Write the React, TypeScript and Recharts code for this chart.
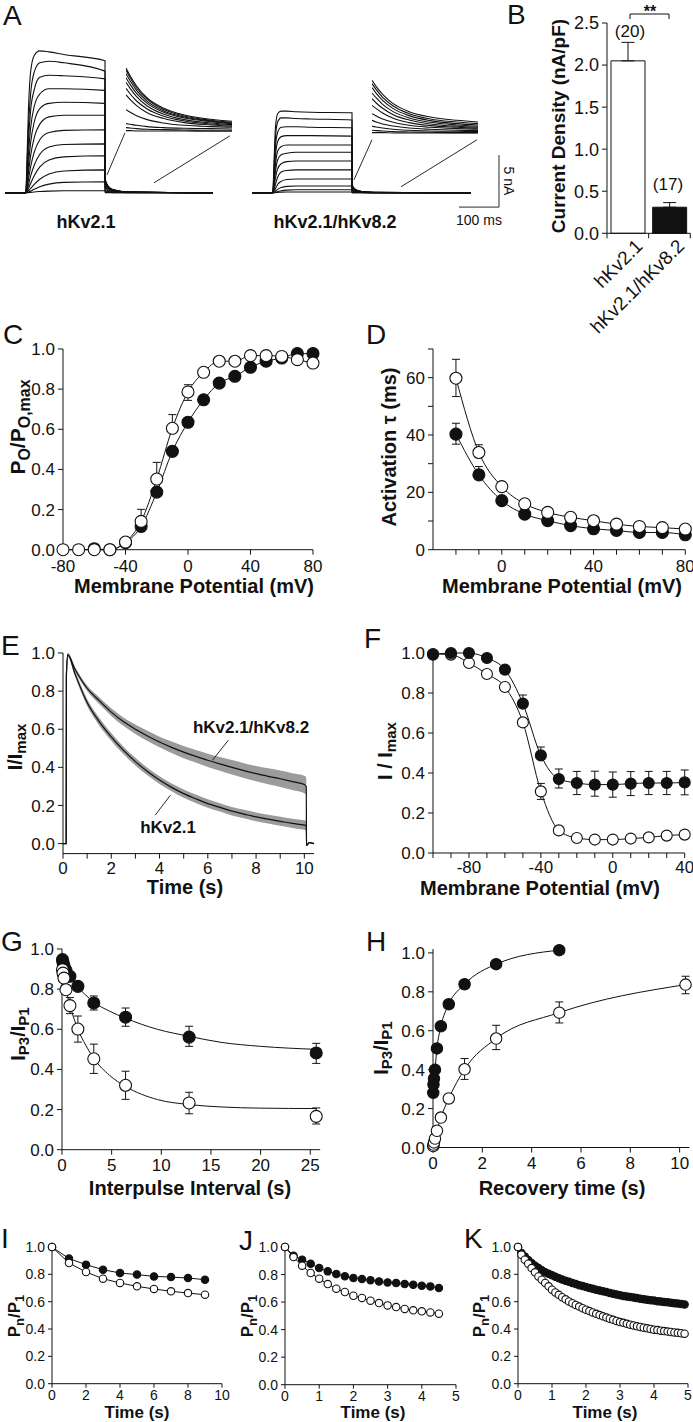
import React from 'react';
import {
  ComposedChart, LineChart, BarChart, Line, Scatter, Area, Bar, Cell,
  XAxis, YAxis, ErrorBar, ReferenceLine,
} from 'recharts';

const INK = '#111';
const GREY = '#9b9b9b';
const FONT = '"Liberation Sans", Arial, Helvetica, sans-serif';

// ---------- A: current traces (nA vs ms) ----------
const stepTimes = [52, 55, 58.5, 64, 73, 87, 110, 147, 250];
const tailTimes = [250.3, 255, 263, 277, 305];
const kv21SweepEnd = 520;
const kv82SweepEnd = 547;

const kv21Steps = [
  [0, 3.3, 7.9, 11.6, 13.2, 13.65, 13.55, 13.3, 12.7],
  [0, 2.5, 6.2, 9.5, 11.6, 12.5, 12.65, 12.5, 11.7],
  [0, 1.8, 4.8, 7.9, 9.9, 11.1, 11.3, 11.25, 10.95],
  [0, 1.3, 3.6, 6.2, 8.3, 9.5, 10.0, 10.0, 9.85],
  [0, 0.9, 2.6, 4.8, 6.8, 8.1, 8.6, 8.7, 8.6],
  [0, 0.65, 1.9, 3.55, 5.3, 6.6, 7.3, 7.45, 7.45],
  [0, 0.4, 1.25, 2.5, 3.9, 5.1, 5.8, 6.0, 6.06],
  [0, 0.25, 0.75, 1.6, 2.65, 3.7, 4.4, 4.65, 4.7],
  [0, 0.15, 0.4, 0.9, 1.65, 2.5, 3.15, 3.45, 3.56],
  [0, 0.08, 0.2, 0.4, 0.8, 1.3, 1.8, 2.1, 2.2],
  [0, 0.04, 0.08, 0.16, 0.33, 0.58, 0.83, 1.0, 1.06],
  [0, 0, 0.02, 0.04, 0.08, 0.12, 0.16, 0.19, 0.2],
];
const kv21Tails = [
  [1.4, 0.83, 0.45, 0.25, 0.08],
  [1.32, 0.79, 0.43, 0.23, 0.08],
  [1.24, 0.74, 0.41, 0.22, 0.07],
  [1.16, 0.7, 0.39, 0.21, 0.07],
  [1.08, 0.66, 0.36, 0.2, 0.07],
  [0.95, 0.58, 0.33, 0.18, 0.07],
  [0.79, 0.5, 0.28, 0.16, 0.06],
  [0.58, 0.37, 0.22, 0.12, 0.05],
  [0.37, 0.25, 0.15, 0.08, 0.03],
  [0.21, 0.14, 0.08, 0.05, 0.02],
  [0.08, 0.06, 0.04, 0.02, 0.02],
  [0.02, 0.02, 0.02, 0.01, 0.01],
];
const kv82Steps = [
  [0, 2.9, 6.2, 7.6, 7.85, 7.85, 7.8, 7.75, 7.7],
  [0, 2.3, 5.2, 6.8, 7.2, 7.2, 7.15, 7.1, 7.0],
  [0, 1.8, 4.3, 5.8, 6.3, 6.35, 6.35, 6.3, 6.25],
  [0, 1.4, 3.5, 4.9, 5.4, 5.5, 5.5, 5.5, 5.45],
  [0, 1.0, 2.65, 4.0, 4.45, 4.6, 4.6, 4.6, 4.6],
  [0, 0.75, 2.0, 3.15, 3.65, 3.8, 3.9, 3.9, 3.9],
  [0, 0.5, 1.4, 2.3, 2.8, 3.0, 3.05, 3.05, 3.05],
  [0, 0.3, 0.8, 1.5, 2.0, 2.15, 2.2, 2.2, 2.2],
  [0, 0.17, 0.4, 0.8, 1.1, 1.28, 1.32, 1.32, 1.32],
  [0, 0.07, 0.17, 0.33, 0.5, 0.62, 0.66, 0.66, 0.66],
  [0, 0.02, 0.07, 0.12, 0.2, 0.26, 0.29, 0.29, 0.29],
  [0, 0.01, 0.02, 0.03, 0.06, 0.08, 0.08, 0.08, 0.08],
];
const kv82Tails = [
  [0.8, 0.45, 0.25, 0.12, 0.04],
  [0.75, 0.42, 0.23, 0.11, 0.04],
  [0.69, 0.39, 0.21, 0.1, 0.04],
  [0.61, 0.35, 0.19, 0.09, 0.03],
  [0.52, 0.3, 0.16, 0.08, 0.03],
  [0.42, 0.25, 0.14, 0.07, 0.03],
  [0.3, 0.18, 0.1, 0.05, 0.02],
  [0.2, 0.12, 0.07, 0.04, 0.02],
  [0.11, 0.07, 0.04, 0.03, 0.02],
  [0.05, 0.04, 0.03, 0.02, 0.01],
  [0.02, 0.02, 0.01, 0.01, 0.01],
  [0.01, 0.01, 0.01, 0, 0],
];

// magnified tail currents (arbitrary units)
const insetTimes = [0, 4, 10, 20, 35, 55, 80, 100];
const kv21Inset = [
  [1.91, 1.67, 1.37, 1.01, 0.71, 0.5, 0.37, 0.31],
  [1.84, 1.61, 1.31, 0.97, 0.67, 0.47, 0.34, 0.28],
  [1.74, 1.52, 1.24, 0.91, 0.63, 0.44, 0.32, 0.26],
  [1.62, 1.41, 1.15, 0.85, 0.59, 0.41, 0.3, 0.24],
  [1.48, 1.29, 1.05, 0.77, 0.53, 0.36, 0.26, 0.21],
  [1.3, 1.13, 0.92, 0.68, 0.47, 0.32, 0.23, 0.19],
  [1.1, 0.96, 0.78, 0.57, 0.4, 0.27, 0.2, 0.16],
  [0.66, 0.58, 0.48, 0.36, 0.26, 0.19, 0.15, 0.13],
  [0.24, 0.22, 0.19, 0.15, 0.12, 0.1, 0.09, 0.08],
  [0.12, 0.11, 0.09, 0.07, 0.06, 0.05, 0.04, 0.04],
  [0.03, 0.03, 0.02, 0.02, 0.02, 0.02, 0.01, 0.01],
];
const kv82Inset = [
  [1.6, 1.41, 1.18, 0.9, 0.66, 0.5, 0.4, 0.35],
  [1.5, 1.32, 1.09, 0.83, 0.6, 0.44, 0.35, 0.3],
  [1.38, 1.21, 1.0, 0.75, 0.54, 0.39, 0.3, 0.26],
  [1.22, 1.07, 0.88, 0.66, 0.47, 0.34, 0.26, 0.22],
  [1.05, 0.92, 0.76, 0.57, 0.41, 0.29, 0.22, 0.19],
  [0.85, 0.75, 0.62, 0.46, 0.33, 0.24, 0.19, 0.16],
  [0.6, 0.53, 0.44, 0.34, 0.25, 0.19, 0.15, 0.13],
  [0.4, 0.35, 0.29, 0.23, 0.17, 0.13, 0.1, 0.09],
  [0.22, 0.2, 0.17, 0.13, 0.1, 0.08, 0.07, 0.06],
  [0.1, 0.09, 0.08, 0.06, 0.05, 0.04, 0.03, 0.03],
  [0.03, 0.03, 0.03, 0.02, 0.02, 0.02, 0.02, 0.02],
];

// ---------- B: current density ----------
const bGroups = ['hKv2.1', 'hKv2.1/hKv8.2'];
const bMeans = [2.05, 0.31];
const bErrs = [0.22, 0.055];
const bCounts = [20, 17];
const bFills = ['#fff', INK];

// ---------- C: activation ----------
const cOpenV = [-80, -70, -60, -50, -40, -30, -20, -10, 0, 10, 20, 30, 40, 50, 60, 70, 80];
const cOpen = [0, 0, 0, 0, 0.038, 0.141, 0.352, 0.605, 0.786, 0.884, 0.939, 0.939, 0.967, 0.967, 0.963, 0.947, 0.93];
const cOpenErr: ([number, number] | null)[] = [null, null, null, null, null, [0, 0.06], [0, 0.083], [0, 0.068], [0.042, 0.036]];
const cFilledV = [-60, -50, -40, -30, -20, -10, 0, 10, 20, 30, 40, 50, 60, 70, 80];
const cFilled = [0.005, 0, 0.035, 0.116, 0.287, 0.49, 0.635, 0.747, 0.83, 0.864, 0.909, 0.939, 0.955, 0.977, 0.977];
const cFilledErr: ([number, number] | null)[] = [null, null, null, [0.026, 0]];

// ---------- D: activation tau ----------
const dV = [-20, -10, 0, 10, 20, 30, 40, 50, 60, 70, 80];
const dOpen = [59.8, 33.9, 22.0, 16.0, 13.0, 11.3, 10.1, 8.9, 8.1, 7.7, 7.2];
const dOpenErr: ([number, number] | null)[] = [[6.4, 6.6], [0, 2.7]];
const dFilled = [40.3, 26.1, 17.1, 12.4, 10.1, 8.4, 7.3, 6.7, 6.0, 6.0, 5.2];
const dFilledErr: ([number, number] | null)[] = [[3.5, 3.8], [0, 2.9]];

// ---------- E: inactivation time course ----------
const eTime = [0, 0.13, 0.14, 0.2, 0.5, 1, 1.5, 2, 2.5, 3, 3.5, 4, 4.5, 5, 5.5, 6, 6.5, 7, 7.5, 8, 8.5, 9, 9.5, 10, 10.08, 10.09, 10.2, 10.4];
const eSlow = [0, 0, 0.88, 0.99, 0.915, 0.815, 0.75, 0.69, 0.64, 0.6, 0.565, 0.533, 0.505, 0.48, 0.458, 0.437, 0.418, 0.4, 0.383, 0.367, 0.353, 0.34, 0.325, 0.31, 0.3, -0.01, 0.005, 0];
const eSlowSem = [0, 0, 0.01, 0.01, 0.012, 0.015, 0.018, 0.02, 0.022, 0.025, 0.027, 0.028, 0.03, 0.032, 0.033, 0.035, 0.036, 0.038, 0.039, 0.04, 0.042, 0.043, 0.044, 0.046, 0.046, 0, 0, 0];
const eFast = [0, 0, 0.88, 0.99, 0.89, 0.74, 0.64, 0.56, 0.49, 0.43, 0.378, 0.333, 0.295, 0.262, 0.235, 0.21, 0.19, 0.17, 0.155, 0.14, 0.128, 0.117, 0.106, 0.097, 0.095, -0.01, 0.005, 0];
const eFastSem = [0, 0, 0.01, 0.01, 0.015, 0.018, 0.02, 0.02, 0.02, 0.02, 0.02, 0.02, 0.02, 0.022, 0.022, 0.022, 0.022, 0.022, 0.022, 0.023, 0.023, 0.024, 0.024, 0.025, 0.025, 0, 0, 0];

// ---------- F: steady-state inactivation ----------
const fV = [-100, -90, -80, -70, -60, -50, -40, -30, -20, -10, 0, 10, 20, 30, 40];
const fFilled = [0.992, 1.0, 1.0, 0.975, 0.917, 0.747, 0.488, 0.37, 0.35, 0.342, 0.342, 0.347, 0.35, 0.35, 0.353];
const fFilledErr: ([number, number] | null)[] = [null, null, null, null, null, [0, 0.043], [0, 0.042], [0.045, 0.05], [0.058, 0.058], [0.058, 0.067], [0.063, 0.063], [0.06, 0.06], [0.058, 0.058], [0.058, 0.058], [0.062, 0.062]];
const fOpen = [0.995, 0.992, 0.95, 0.895, 0.83, 0.653, 0.308, 0.113, 0.075, 0.067, 0.067, 0.072, 0.078, 0.087, 0.092];
const fOpenErr: ([number, number] | null)[] = [null, null, null, null, null, null, [0.04, 0.04]];

// ---------- G: closed-state inactivation ----------
const gX = [0.05, 0.1, 0.2, 0.4, 0.8, 1.6, 3.2, 6.4, 12.8, 25.6];
const gFilled = [0.947, 0.933, 0.917, 0.893, 0.864, 0.814, 0.731, 0.66, 0.561, 0.482];
const gFilledErr: ([number, number] | null)[] = [null, null, null, null, null, null, [0.035, 0.035], [0.045, 0.046], [0.046, 0.054], [0.052, 0.048]];
const gOpen = [0.897, 0.88, 0.855, 0.797, 0.718, 0.601, 0.453, 0.321, 0.233, 0.166];
const gOpenErr: ([number, number] | null)[] = [null, null, null, null, [0.04, 0.04], [0.065, 0.065], [0.073, 0.073], [0.07, 0.07], [0.054, 0.053], [0.038, 0.042]];
const gFitX = [0, 0.4, 0.8, 1.6, 2.4, 3.2, 4.8, 6.4, 9.6, 12.8, 16, 20, 25.6];
const gFilledFit = [0.945, 0.905, 0.865, 0.81, 0.77, 0.735, 0.69, 0.655, 0.6, 0.565, 0.535, 0.515, 0.5];
const gOpenFit = [0.9, 0.8, 0.72, 0.6, 0.52, 0.455, 0.37, 0.315, 0.25, 0.225, 0.213, 0.207, 0.205];

// ---------- H: recovery ----------
const hFilledX = [0.01, 0.02, 0.04, 0.08, 0.16, 0.32, 0.64, 1.28, 2.56, 5.12];
const hFilled = [0.281, 0.324, 0.354, 0.4, 0.509, 0.623, 0.736, 0.839, 0.942, 1.014];
const hOpenX = [0.01, 0.02, 0.04, 0.08, 0.16, 0.32, 0.64, 1.28, 2.56, 5.12, 10.24];
const hOpen = [0.007, 0.015, 0.026, 0.046, 0.086, 0.154, 0.252, 0.402, 0.56, 0.693, 0.837];
const hOpenErr: ([number, number] | null)[] = [null, null, null, null, null, null, null, [0.052, 0.055], [0.057, 0.068], [0.053, 0.055], [0.047, 0.043]];

// ---------- I, J, K: pulse trains ----------
const iT = [0, 1, 2, 3, 4, 5, 6, 7, 8, 9];
const iFilled = [1.0, 0.915, 0.871, 0.834, 0.81, 0.798, 0.785, 0.78, 0.773, 0.761];
const iOpen = [1.0, 0.883, 0.817, 0.768, 0.737, 0.712, 0.693, 0.676, 0.663, 0.651];

const jT = [0, 0.25, 0.5, 0.75, 1, 1.25, 1.5, 1.75, 2, 2.25, 2.5, 2.75, 3, 3.25, 3.5, 3.75, 4, 4.25, 4.5];
const jFilled = [1.0, 0.937, 0.908, 0.879, 0.847, 0.823, 0.804, 0.787, 0.775, 0.767, 0.758, 0.75, 0.743, 0.738, 0.731, 0.726, 0.719, 0.714, 0.702];
const jOpen = [1.0, 0.927, 0.864, 0.811, 0.77, 0.731, 0.697, 0.673, 0.646, 0.63, 0.61, 0.593, 0.576, 0.564, 0.55, 0.54, 0.533, 0.525, 0.516];

const kT = [0, 0.1, 0.2, 0.3, 0.4, 0.5, 0.6, 0.7, 0.8, 0.9, 1, 1.1, 1.2, 1.3, 1.4, 1.5, 1.6, 1.7, 1.8, 1.9,
  2, 2.1, 2.2, 2.3, 2.4, 2.5, 2.6, 2.7, 2.8, 2.9, 3, 3.1, 3.2, 3.3, 3.4, 3.5, 3.6, 3.7, 3.8, 3.9,
  4, 4.1, 4.2, 4.3, 4.4, 4.5, 4.6, 4.7, 4.8, 4.9];
const kFilled = [1.0, 0.956, 0.93, 0.905, 0.883, 0.863, 0.846, 0.83, 0.816, 0.804,
  0.793, 0.782, 0.772, 0.762, 0.753, 0.745, 0.737, 0.729, 0.721, 0.714,
  0.707, 0.7, 0.694, 0.688, 0.682, 0.676, 0.67, 0.664, 0.658, 0.652,
  0.647, 0.642, 0.638, 0.634, 0.63, 0.626, 0.622, 0.618, 0.614, 0.611,
  0.608, 0.604, 0.601, 0.598, 0.595, 0.592, 0.589, 0.586, 0.583, 0.58];
const kOpen = [1.0, 0.944, 0.907, 0.878, 0.846, 0.815, 0.785, 0.761, 0.737, 0.712,
  0.688, 0.668, 0.65, 0.633, 0.617, 0.602, 0.589, 0.576, 0.564, 0.552,
  0.541, 0.531, 0.521, 0.511, 0.502, 0.493, 0.484, 0.475, 0.467, 0.459,
  0.451, 0.445, 0.438, 0.432, 0.426, 0.42, 0.415, 0.41, 0.405, 0.4,
  0.395, 0.392, 0.388, 0.385, 0.381, 0.378, 0.375, 0.372, 0.369, 0.366];

// ---------- helpers ----------
type Err = [number, number];
type Pt = { x: number; y: number; e: Err };
type Box = { left: number; top: number; width: number; height: number };

const pts = (xs: number[], ys: number[], errs: (Err | null)[] = []): Pt[] =>
  xs.map((x, k) => ({ x, y: ys[k], e: errs[k] ?? [0, 0] }));

const traceRows = (steps: number[], tails: number[], end: number) => [
  { t: 0, i: 0 },
  ...stepTimes.map((t, k) => ({ t, i: steps[k] })),
  ...tailTimes.map((t, k) => ({ t, i: tails[k] })),
  { t: end, i: 0 },
];
const insetRows = (vals: number[]) => insetTimes.map((t, k) => ({ t, i: vals[k] }));

const circle = (r: number, fill: string) => (p: any) => (
  <circle cx={p.cx} cy={p.cy} r={r} fill={fill} stroke={INK} strokeWidth={1.1} />
);

const axisStyle = (size: number) => ({
  axisLine: { stroke: INK, strokeWidth: 1 },
  tickLine: { stroke: INK, strokeWidth: 1 },
  tick: { fill: INK, fontSize: size, fontFamily: FONT },
});

const fixed1 = (v: number) => v.toFixed(1);

type Series = { data: Pt[]; fit?: { x: number; y: number }[]; fill: string; r: number; err?: boolean; line?: 'monotone' | 'linear' };

type PanelProps = {
  box: Box; padL: number; padB: number; font: number; tick: number; xGap: number;
  xDomain: [number, number]; xTicks: number[]; xFmt?: (v: number) => string;
  yDomain: [number, number]; yTicks: number[]; yFmt?: (v: number) => string;
  series: Series[];
};

function XYPanel(p: PanelProps) {
  const padT = 10;
  const padR = 10;
  return (
    <div style={{ position: 'absolute', left: p.box.left - p.padL, top: p.box.top - padT }}>
      <ComposedChart
        width={p.box.width + p.padL + padR}
        height={p.box.height + padT + p.padB}
        margin={{ top: padT, right: padR, bottom: 0, left: 0 }}
      >
        <XAxis type="number" dataKey="x" domain={p.xDomain} ticks={p.xTicks} interval={0}
          tickFormatter={p.xFmt ?? ((v: number) => String(v))} height={p.padB}
          tickSize={p.tick} tickMargin={p.xGap} {...axisStyle(p.font)} />
        <YAxis type="number" dataKey="y" domain={p.yDomain} ticks={p.yTicks} interval={0}
          tickFormatter={p.yFmt ?? fixed1} width={p.padL}
          tickSize={p.tick} tickMargin={3} {...axisStyle(p.font)} />
        {p.series.map((s, k) => (
          <Line key={'fit' + k} data={s.fit ?? s.data} dataKey="y" type={s.line ?? 'monotone'}
            stroke={INK} strokeWidth={1} dot={false} activeDot={false} isAnimationActive={false} />
        ))}
        {p.series.map((s, k) => (
          <Scatter key={'pts' + k} data={s.data} dataKey="y" shape={circle(s.r, s.fill)} isAnimationActive={false}>
            {s.err && <ErrorBar dataKey="e" direction="y" width={4} stroke={INK} strokeWidth={1} />}
          </Scatter>
        ))}
      </ComposedChart>
    </div>
  );
}

type TraceProps = {
  box: Box; xMax: number; yDomain: [number, number];
  steps: number[][]; tails: number[][]; end: number;
  segments: { x: number; y: number }[][];
};

function Traces({ box, xMax, yDomain, steps, tails, end, segments }: TraceProps) {
  return (
    <div style={{ position: 'absolute', left: box.left, top: box.top }}>
      <LineChart width={box.width} height={box.height} margin={{ top: 0, right: 0, bottom: 0, left: 0 }}>
        <XAxis type="number" dataKey="t" domain={[0, xMax]} hide />
        <YAxis type="number" domain={yDomain} hide />
        {steps.map((s, k) => (
          <Line key={k} data={traceRows(s, tails[k], end)} dataKey="i" type="monotone"
            stroke={INK} strokeWidth={1.1} dot={false} activeDot={false} isAnimationActive={false} />
        ))}
        {segments.map((seg, k) => (
          <ReferenceLine key={'seg' + k} segment={seg} stroke={INK} strokeWidth={0.9} ifOverflow="visible" />
        ))}
      </LineChart>
    </div>
  );
}

function Inset({ box, curves }: { box: Box; curves: number[][] }) {
  return (
    <div style={{ position: 'absolute', left: box.left, top: box.top }}>
      <LineChart width={box.width} height={box.height} margin={{ top: 0, right: 0, bottom: 0, left: 0 }}>
        <XAxis type="number" dataKey="t" domain={[0, 100]} hide />
        <YAxis type="number" domain={[-0.05, 2]} hide />
        {curves.map((c, k) => (
          <Line key={k} data={insetRows(c)} dataKey="i" type="monotone" stroke={INK}
            strokeWidth={1.1} dot={false} activeDot={false} isAnimationActive={false} />
        ))}
      </LineChart>
    </div>
  );
}

const bBox: Box = { left: 606.7, top: 22.7, width: 83.3, height: 210.3 };

function GroupTick(props: any) {
  const { x, y, payload, index } = props;
  const half = bBox.width / 4;
  const tx = x + 16;
  const ty = y + 14;
  return (
    <g>
      <line x1={x + half} y1={y} x2={x + half} y2={y + 5} stroke={INK} />
      {index === 0 && <line x1={x - half} y1={y} x2={x - half} y2={y + 5} stroke={INK} />}
      <text x={tx} y={ty} textAnchor="end" transform={`rotate(-45 ${tx} ${ty})`}
        fontSize={19} fontFamily={FONT} fill={INK}>{payload.value}</text>
    </g>
  );
}

function DensityPanel() {
  const rows = bGroups.map((g, k) => ({ g, mean: bMeans[k], err: [0, bErrs[k]] }));
  const padL = 60;
  const padT = 10;
  return (
    <div style={{ position: 'absolute', left: bBox.left - padL, top: bBox.top - padT }}>
      <BarChart width={bBox.width + padL + 3} height={bBox.height + padT + 110} data={rows}
        margin={{ top: padT, right: 3, bottom: 0, left: 0 }}>
        <XAxis dataKey="g" type="category" height={110} interval={0} tickSize={0} tickMargin={0}
          tickLine={false} axisLine={{ stroke: INK }} tick={(p: any) => <GroupTick {...p} />} />
        <YAxis type="number" domain={[0, 2.5]} ticks={[0, 0.5, 1, 1.5, 2, 2.5]} interval={0} width={padL}
          tickFormatter={fixed1} tickSize={5} tickMargin={3} {...axisStyle(18)} />
        <Bar dataKey="mean" barSize={34} stroke={INK} strokeWidth={1} isAnimationActive={false}>
          {rows.map((r, k) => <Cell key={r.g} fill={bFills[k]} />)}
          <ErrorBar dataKey="err" width={6.5} stroke={INK} strokeWidth={1} />
        </Bar>
      </BarChart>
    </div>
  );
}

const eBox: Box = { left: 62.7, top: 652.7, width: 251, height: 200.6 };

function DecayPanel() {
  const rows = eTime.map((t, k) => ({
    x: t,
    slow: eSlow[k],
    fast: eFast[k],
    slowBand: [eSlow[k] - eSlowSem[k], eSlow[k] + eSlowSem[k]],
    fastBand: [eFast[k] - eFastSem[k], eFast[k] + eFastSem[k]],
  }));
  const padL = 62;
  const padT = 10;
  return (
    <div style={{ position: 'absolute', left: eBox.left - padL, top: eBox.top - padT }}>
      <ComposedChart width={eBox.width + padL + 10} height={eBox.height + padT + 30} data={rows}
        margin={{ top: padT, right: 10, bottom: 0, left: 0 }}>
        <XAxis type="number" dataKey="x" domain={[0, 10.4]} ticks={[0, 1, 2, 3, 4, 5, 6, 7, 8, 9, 10]} interval={0}
          tickFormatter={(v: number) => (v % 2 === 0 ? String(v) : '')} height={30}
          tickSize={5} tickMargin={3} {...axisStyle(17)} />
        <YAxis type="number" domain={[-0.0525, 1]} ticks={[0, 0.2, 0.4, 0.6, 0.8, 1]} interval={0} width={padL}
          tickFormatter={fixed1} tickSize={5} tickMargin={3} {...axisStyle(17)} />
        <Area dataKey="slowBand" type="monotone" stroke="none" fill={GREY} fillOpacity={1} isAnimationActive={false} activeDot={false} />
        <Area dataKey="fastBand" type="monotone" stroke="none" fill={GREY} fillOpacity={1} isAnimationActive={false} activeDot={false} />
        <Line dataKey="slow" type="monotone" stroke={INK} strokeWidth={1.2} dot={false} activeDot={false} isAnimationActive={false} />
        <Line dataKey="fast" type="monotone" stroke={INK} strokeWidth={1.2} dot={false} activeDot={false} isAnimationActive={false} />
        <ReferenceLine segment={[{ x: 6.85, y: 0.542 }, { x: 6.19, y: 0.437 }]} stroke={INK} strokeWidth={0.9} />
        <ReferenceLine segment={[{ x: 3.82, y: 0.149 }, { x: 4.45, y: 0.254 }]} stroke={INK} strokeWidth={0.9} />
      </ComposedChart>
    </div>
  );
}

function VTitle({ x, y, size, children }: { x: number; y: number; size: number; children: React.ReactNode }) {
  return (
    <text x={x} y={y} transform={`rotate(-90 ${x} ${y})`} textAnchor="middle" fontSize={size} fontWeight="bold">
      {children}
    </text>
  );
}

function HTitle({ x, y, size = 20, children }: { x: number; y: number; size?: number; children: React.ReactNode }) {
  return <text x={x} y={y} textAnchor="middle" fontSize={size} fontWeight="bold">{children}</text>;
}

const letters: [string, number, number][] = [
  ['A', 3, 25], ['B', 507, 24], ['C', 3, 344], ['D', 366, 344], ['E', 1, 655], ['F', 364, 648],
  ['G', 1, 951], ['H', 366, 951], ['I', 1, 1248], ['J', 239, 1250], ['K', 464, 1248],
];

function Overlay() {
  return (
    <svg width={693} height={1422} style={{ position: 'absolute', left: 0, top: 0, pointerEvents: 'none' }}
      fontFamily={FONT} fill={INK}>
      {letters.map(([l, x, y]) => (
        <text key={l} x={x} y={y} fontSize={28}>{l}</text>
      ))}
      {/* A */}
      <HTitle x={86} y={228} size={18}>hKv2.1</HTitle>
      <HTitle x={335} y={228} size={18}>hKv2.1/hKv8.2</HTitle>
      <text x={479} y={225} textAnchor="middle" fontSize={14}>100 ms</text>
      <text x={504} y={181} transform="rotate(90 504 181)" textAnchor="middle" fontSize={14}>5 nA</text>
      {/* B */}
      <VTitle x={565} y={126} size={19}>Current Density (nA/pF)</VTitle>
      <text x={630} y={37} textAnchor="middle" fontSize={17}>({bCounts[0]})</text>
      <text x={668} y={190} textAnchor="middle" fontSize={17}>({bCounts[1]})</text>
      <text x={650} y={17} textAnchor="middle" fontSize={16} fontWeight="bold">**</text>
      <path d="M630 19 V14 H669 V19" fill="none" stroke={INK} strokeWidth={1} />
      {/* C */}
      <VTitle x={25} y={427} size={21}>
        P<tspan fontSize={16} dy={5}>O</tspan><tspan dy={-5}>/P</tspan><tspan fontSize={16} dy={5}>O,max</tspan>
      </VTitle>
      <HTitle x={194} y={593}>Membrane Potential (mV)</HTitle>
      {/* D */}
      <VTitle x={396} y={447} size={20}>Activation τ (ms)</VTitle>
      <HTitle x={562} y={593}>Membrane Potential (mV)</HTitle>
      {/* E */}
      <VTitle x={22} y={747} size={20}>
        I/I<tspan fontSize={15} dy={4}>max</tspan>
      </VTitle>
      <HTitle x={185} y={894}>Time (s)</HTitle>
      <HTitle x={251} y={733} size={17}>hKv2.1/hKv8.2</HTitle>
      <HTitle x={168} y={833} size={17}>hKv2.1</HTitle>
      {/* F */}
      <VTitle x={392} y={751} size={20}>
        I / I<tspan fontSize={15} dy={4}>max</tspan>
      </VTitle>
      <HTitle x={540} y={895}>Membrane Potential (mV)</HTitle>
      {/* G */}
      <VTitle x={25} y={1034} size={20}>
        I<tspan fontSize={15} dy={4}>P3</tspan><tspan dy={-4}>/I</tspan><tspan fontSize={15} dy={4}>P1</tspan>
      </VTitle>
      <HTitle x={190} y={1195}>Interpulse Interval (s)</HTitle>
      {/* H */}
      <VTitle x={388} y={1048} size={20}>
        I<tspan fontSize={15} dy={4}>P3</tspan><tspan dy={-4}>/I</tspan><tspan fontSize={15} dy={4}>P1</tspan>
      </VTitle>
      <HTitle x={562} y={1195}>Recovery time (s)</HTitle>
      {/* I J K */}
      {[[20, 137], [253, 373], [485, 605]].map(([yx, tx]) => (
        <g key={yx}>
          <VTitle x={yx} y={1316} size={17}>
            P<tspan fontSize={13} dy={4}>n</tspan><tspan dy={-4}>/P</tspan><tspan fontSize={13} dy={4}>1</tspan>
          </VTitle>
          <HTitle x={tx} y={1418} size={17}>Time (s)</HTitle>
        </g>
      ))}
    </svg>
  );
}

const small = { padL: 50, padB: 22, font: 14, tick: 4, xGap: 2 };
const big = { padB: 30, font: 17, tick: 5 };

export default function App() {
  return (
    <div style={{ position: 'absolute', left: 0, top: 0, width: 693, height: 1422, background: '#fff', fontFamily: FONT, overflow: 'hidden' }}>
      {/* A */}
      <Traces box={{ left: 5, top: 42.2, width: 230, height: 161.2 }} xMax={575} yDomain={[-1, 14.5]}
        steps={kv21Steps} tails={kv21Tails} end={kv21SweepEnd}
        segments={[
          [{ x: 255, y: 1.73 }, { x: 300, y: 5.77 }],
          [{ x: 372.5, y: 0.96 }, { x: 562.5, y: 5.48 }],
        ]} />
      <Inset box={{ left: 126, top: 65.3, width: 106, height: 68.3 }} curves={kv21Inset} />
      <Traces box={{ left: 252, top: 42.2, width: 260, height: 166.4 }} xMax={650} yDomain={[-1.5, 14.5]}
        steps={kv82Steps} tails={kv82Tails} end={kv82SweepEnd}
        segments={[
          [{ x: 255, y: 1.25 }, { x: 300, y: 5.1 }],
          [{ x: 372.5, y: 0.58 }, { x: 562.5, y: 5.1 }],
          [{ x: 517.5, y: -1.375 }, { x: 617.5, y: -1.375 }],
          [{ x: 617.5, y: -1.375 }, { x: 617.5, y: 3.625 }],
        ]} />
      <Inset box={{ left: 372, top: 66.6, width: 106, height: 68.3 }} curves={kv82Inset} />

      <DensityPanel />

      <XYPanel box={{ left: 63.3, top: 349.3, width: 250, height: 200.7 }} padL={63} {...big} xGap={5}
        xDomain={[-80, 80]} xTicks={[-80, -40, 0, 40, 80]}
        yDomain={[0, 1]} yTicks={[0, 0.2, 0.4, 0.6, 0.8, 1]}
        series={[
          { data: pts(cFilledV, cFilled, cFilledErr), fill: INK, r: 6, err: true },
          { data: pts(cOpenV, cOpen, cOpenErr), fill: '#fff', r: 6, err: true },
        ]} />

      <XYPanel box={{ left: 432.7, top: 349.3, width: 252.3, height: 200.7 }} padL={50} {...big} xGap={5}
        xDomain={[-30, 80]} xTicks={[-20, -10, 0, 10, 20, 30, 40, 50, 60, 70, 80]}
        xFmt={(v) => (v % 40 === 0 ? String(v) : '')}
        yDomain={[0, 70]} yTicks={[0, 10, 20, 30, 40, 50, 60, 70]}
        yFmt={(v) => (v % 20 === 0 && v <= 60 ? String(v) : '')}
        series={[
          { data: pts(dV, dFilled, dFilledErr), fill: INK, r: 6, err: true },
          { data: pts(dV, dOpen, dOpenErr), fill: '#fff', r: 6, err: true },
        ]} />

      <DecayPanel />

      <XYPanel box={{ left: 433.3, top: 653.3, width: 251.7, height: 200 }} padL={60} {...big} xGap={3}
        xDomain={[-100, 40]} xTicks={[-100, -90, -80, -70, -60, -50, -40, -30, -20, -10, 0, 10, 20, 30, 40]}
        xFmt={(v) => (v % 40 === 0 ? String(v) : '')}
        yDomain={[0, 1]} yTicks={[0, 0.2, 0.4, 0.6, 0.8, 1]}
        series={[
          { data: pts(fV, fOpen, fOpenErr), fill: '#fff', r: 5.5, err: true },
          { data: pts(fV, fFilled, fFilledErr), fill: INK, r: 5.5, err: true },
        ]} />

      <XYPanel box={{ left: 61.7, top: 949.3, width: 258.2, height: 200.7 }} padL={60} {...big} xGap={4}
        xDomain={[0, 26]} xTicks={[0, 5, 10, 15, 20, 25]}
        yDomain={[0, 1]} yTicks={[0, 0.2, 0.4, 0.6, 0.8, 1]}
        series={[
          { data: pts(gX, gFilled, gFilledErr), fit: pts(gFitX, gFilledFit), fill: INK, r: 6, err: true },
          { data: pts(gX, gOpen, gOpenErr), fit: pts(gFitX, gOpenFit), fill: '#fff', r: 6, err: true },
        ]} />

      <XYPanel box={{ left: 433.3, top: 948.8, width: 256.5, height: 198.5 }} padL={60} {...big} xGap={4}
        xDomain={[0, 10.4]} xTicks={[0, 2, 4, 6, 8, 10]}
        yDomain={[0, 1.02]} yTicks={[0, 0.2, 0.4, 0.6, 0.8, 1]}
        series={[
          { data: pts(hFilledX, hFilled), fill: INK, r: 5.7 },
          { data: pts(hOpenX, hOpen, hOpenErr), fill: '#fff', r: 5.7, err: true },
        ]} />

      <XYPanel box={{ left: 51.7, top: 1247.3, width: 170, height: 136.7 }} {...small}
        xDomain={[0, 10]} xTicks={[0, 2, 4, 6, 8, 10]}
        yDomain={[0, 1]} yTicks={[0, 0.2, 0.4, 0.6, 0.8, 1]}
        series={[
          { data: pts(iT, iFilled), fill: INK, r: 3.7, line: 'linear' },
          { data: pts(iT, iOpen), fill: '#fff', r: 3.7, line: 'linear' },
        ]} />

      <XYPanel box={{ left: 285, top: 1247.3, width: 171, height: 137.7 }} {...small}
        xDomain={[0, 5]} xTicks={[0, 1, 2, 3, 4, 5]}
        yDomain={[0, 1]} yTicks={[0, 0.2, 0.4, 0.6, 0.8, 1]}
        series={[
          { data: pts(jT, jFilled), fill: INK, r: 3.7, line: 'linear' },
          { data: pts(jT, jOpen), fill: '#fff', r: 3.7, line: 'linear' },
        ]} />

      <XYPanel box={{ left: 518.3, top: 1247.3, width: 170, height: 136.7 }} {...small}
        xDomain={[0, 5]} xTicks={[0, 1, 2, 3, 4, 5]}
        yDomain={[0, 1]} yTicks={[0, 0.2, 0.4, 0.6, 0.8, 1]}
        series={[
          { data: pts(kT, kFilled), fill: INK, r: 3.7, line: 'linear' },
          { data: pts(kT, kOpen), fill: '#fff', r: 3.7, line: 'linear' },
        ]} />

      <Overlay />
    </div>
  );
}
